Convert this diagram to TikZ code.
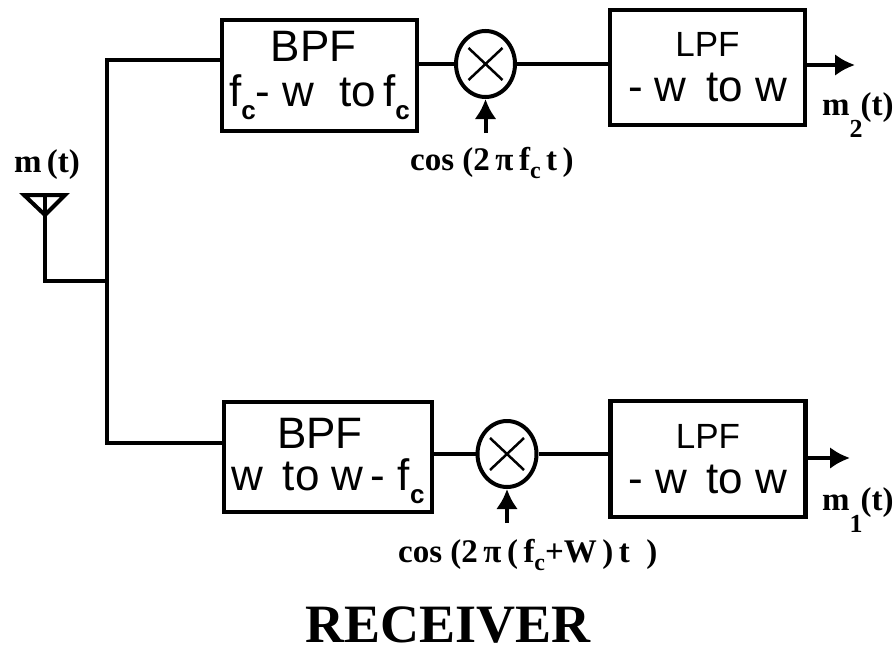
\documentclass[tikz,border=0pt]{standalone}
\usepackage{fontspec}
\setmainfont{Liberation Serif}
\setsansfont{Liberation Sans}
\usetikzlibrary{arrows.meta,positioning,shapes.geometric}

\newcommand{\subc}{\raisebox{-13pt}{\bfseries\fontsize{26}{26}\selectfont c}}
\newcommand{\subs}{\raisebox{-8pt}{\fontsize{24}{24}\selectfont c}}
\newcommand{\subn}[1]{\raisebox{-22pt}{\fontsize{26}{26}\selectfont #1}}

\tikzset{
wire/.style={line width=4pt},
feed/.style={wire,-{Latex[length=20pt,width=22pt]}},
filterbox/.style={draw,line width=4.5pt,align=center,inner sep=0pt,font=\sffamily\fontsize{44}{45}\selectfont},
mixer/.style={draw,ellipse,line width=4pt,minimum width=59pt,minimum height=66pt,inner sep=0pt},
sig/.style={inner sep=0pt,anchor=base west,font=\rmfamily\bfseries\fontsize{33}{35}\selectfont}
}

\begin{document}
\begin{tikzpicture}[x=1pt,y=-1pt]
\useasboundingbox (0,0) rectangle (896,653);
% upper branch
\node[filterbox,minimum width=195pt,minimum height=111pt] (bpfa) at (319.5,75.5) {BPF\hspace*{12pt}\\f\subc{}- w\; to\,f\subc};
\node[mixer] (mixa) at (485.5,64) {};
\node[filterbox,minimum width=195pt,minimum height=115pt] (lpfa) at (707.5,67.5) {\fontsize{35}{44}\selectfont LPF\\- w\, to w};
% lower branch
\node[filterbox,minimum width=208pt,minimum height=110pt] (bpfb) at (328,457) {\rule{0pt}{38pt}BPF\hspace*{16pt}\\[-3pt]w\, to w\,- f\subc};
\node[mixer] (mixb) at (507,454) {};
\node[filterbox,minimum width=195pt,minimum height=116pt] (lpfb) at (708,459) {\fontsize{35}{44}\selectfont LPF\\- w\, to w};
\foreach \m in {mixa,mixb}{\draw[line width=2.5pt] (\m) +(-17,-16)--+(17,16) +(-17,16)--+(17,-16);}
% aerial and bus
\coordinate (anta) at (24,195);\coordinate (antb) at (65,195);\coordinate (antc) at (45,215);
\coordinate (antm) at (45,195);\coordinate (antf) at (45,281);\coordinate (junc) at (107,281);
\coordinate (busa) at (107,60);\coordinate (busb) at (107,443);
\coordinate (tapa) at (bpfa.west |- busa);\coordinate (tapb) at (bpfb.west |- busb);
\draw[wire,line join=miter] (anta)--(antb)--(antc)--cycle;
\draw[wire] (antm)--(antf)--(junc);
\draw[wire] (tapa)--(busa)--(busb)--(tapb);
\node[sig,anchor=base] (msig) at (47,172) {m\,(t)};
% mixers and outputs
\draw[wire] (mixa.west)--(mixa.west -| bpfa.east);\draw[wire] (mixa.east)--(mixa.east -| lpfa.west);
\draw[wire] (mixb.west)--(mixb.west -| bpfb.east);\draw[wire] (mixb.east)--(mixb.east -| lpfb.west);
\coordinate (outa) at (855,65);\coordinate (outb) at (850,458);
\draw[feed] (outa -| lpfa.east)--(outa);\draw[feed] (outb -| lpfb.east)--(outb);
\node[sig] (ma) at (822,115) {m\subn{2}\kern-2pt(t)};
\node[sig] (mb) at (822,510) {m\subn{1}\kern-2pt(t)};
% carriers
\node[sig] (cosa) at (410,170) {cos (2\,π\,f\subs\,t\,)};
\node[sig] (cosb) at (398,562) {cos (2\,π\,(\,f\subs+W\,)\,t\,\,\,)};
\coordinate (srca) at (485.5,133);\coordinate (srcb) at (507,523);
\draw[feed] (srca)--(mixa.south);\draw[feed] (srcb)--(mixb.south);
\node[font=\rmfamily\bfseries\fontsize{54}{56}\selectfont,inner sep=0pt,anchor=base] (title) at (448,642) {RECEIVER};
\end{tikzpicture}
\end{document}
